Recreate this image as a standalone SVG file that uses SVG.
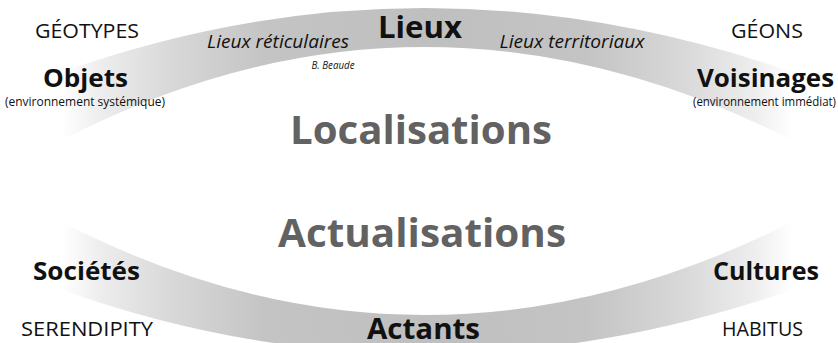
<svg xmlns="http://www.w3.org/2000/svg" width="838" height="343" viewBox="0 0 838 343">
<defs>
<linearGradient id="bandGrad" gradientUnits="userSpaceOnUse" x1="62" y1="0" x2="792" y2="0">
<stop offset="0" stop-color="#ffffff"/>
<stop offset="0.05" stop-color="#eeeeee"/>
<stop offset="0.15" stop-color="#d8d8d8"/>
<stop offset="0.28" stop-color="#c4c4c4"/>
<stop offset="0.5" stop-color="#bfbfbf"/>
<stop offset="0.72" stop-color="#c4c4c4"/>
<stop offset="0.85" stop-color="#d8d8d8"/>
<stop offset="0.95" stop-color="#eeeeee"/>
<stop offset="1" stop-color="#ffffff"/>
</linearGradient>
</defs>
<style>
text{font-family:"Open Sans","Noto Sans","DejaVu Sans",sans-serif;fill:#111;text-anchor:middle}
.cap{font-size:20px}
.big{font-size:25px;font-weight:bold}
.sub{font-size:13px}
.it{font-size:19px;font-style:italic}
.title{font-size:40px;font-weight:bold;fill:#626262}
.band{fill:url(#bandGrad)}
</style>
<rect width="838" height="343" fill="#ffffff"/>
<g id="bands">
<path class="band" d="M 62,72 Q 422,-56 792,72 L 792,140 Q 422,-46 62,140 Z"/>
<path class="band" transform="translate(0,362) scale(1,-1)" d="M 62,72 Q 422,-56 792,72 L 792,140 Q 422,-46 62,140 Z"/>
</g>
<g id="lieux"><text x="420" y="38" style="font-size:31px;font-weight:bold" textLength="84" lengthAdjust="spacingAndGlyphs">Lieux</text></g>
<g id="lieux-reticulaires"><text class="it" x="278" y="48" textLength="142" lengthAdjust="spacingAndGlyphs">Lieux réticulaires</text>
<text x="333" y="69" style="font-size:10px;font-style:italic" textLength="43" lengthAdjust="spacingAndGlyphs">B. Beaude</text></g>
<g id="lieux-territoriaux"><text class="it" x="572" y="48" textLength="145" lengthAdjust="spacingAndGlyphs">Lieux territoriaux</text></g>
<g id="geotypes"><text class="cap" x="87" y="38" textLength="104" lengthAdjust="spacingAndGlyphs">GÉOTYPES</text></g>
<g id="geons"><text class="cap" x="767" y="38" textLength="72" lengthAdjust="spacingAndGlyphs">GÉONS</text></g>
<g id="objets"><text class="big" x="85.5" y="87" textLength="85" lengthAdjust="spacingAndGlyphs">Objets</text>
<text class="sub" x="85" y="106" textLength="160" lengthAdjust="spacingAndGlyphs">(environnement systémique)</text></g>
<g id="voisinages"><text class="big" x="765.5" y="87" textLength="137" lengthAdjust="spacingAndGlyphs">Voisinages</text>
<text class="sub" x="764.5" y="106" textLength="143" lengthAdjust="spacingAndGlyphs">(environnement immédiat)</text></g>
<g id="localisations"><text class="title" x="421" y="144" textLength="262" lengthAdjust="spacingAndGlyphs">Localisations</text></g>
<g id="actualisations"><text class="title" x="422" y="247" textLength="288" lengthAdjust="spacingAndGlyphs">Actualisations</text></g>
<g id="societes"><text class="big" x="86.5" y="280" textLength="107" lengthAdjust="spacingAndGlyphs">Sociétés</text></g>
<g id="cultures"><text class="big" x="766" y="280" textLength="106" lengthAdjust="spacingAndGlyphs">Cultures</text></g>
<g id="serendipity"><text class="cap" x="87" y="336" textLength="132" lengthAdjust="spacingAndGlyphs">SERENDIPITY</text></g>
<g id="habitus"><text class="cap" x="762.5" y="336" textLength="81" lengthAdjust="spacingAndGlyphs">HABITUS</text></g>
<g id="actants"><text x="423.5" y="339" style="font-size:29px;font-weight:bold" textLength="113" lengthAdjust="spacingAndGlyphs">Actants</text></g>
</svg>
